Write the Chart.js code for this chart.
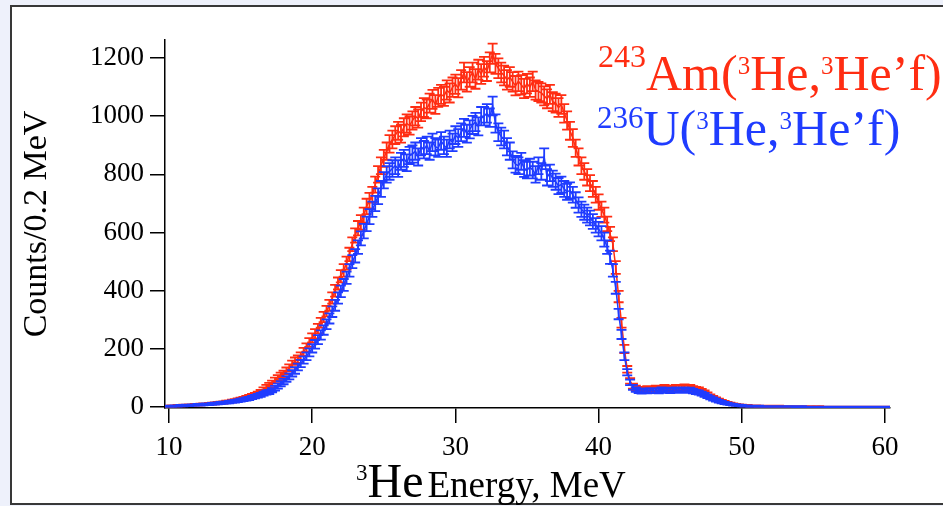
<!DOCTYPE html>
<html>
<head>
<meta charset="utf-8">
<script src="https://cdn.jsdelivr.net/npm/chart.js@4.4.1/dist/chart.umd.min.js"></script>
<style>
  html, body { margin: 0; padding: 0; width: 943px; height: 506px; overflow: hidden; background: #eef1fb; }
  #frame { position: absolute; left: 10px; top: 5px; width: 940px; height: 496px; background: #ffffff;
           border-left: 2px solid #383838; border-top: 2px solid #383838; border-bottom: 2px solid #383838; }
  canvas { position: absolute; left: 0; top: 0; }
  .lab { position: absolute; font-family: "Liberation Serif", "Times New Roman", serif; white-space: nowrap; line-height: 48px; }
  .sup { position: relative; }
</style>
</head>
<body>
<div id="frame"></div>
<canvas id="c" width="943" height="506"></canvas>
<div class="lab" id="amLab" style="left:598px; top:49px; font-size:50px; color:#ff2d12;"><span class="sup" style="font-size:32px; top:-23px;">243</span>Am(<span class="sup" style="font-size:25px; top:-16px;">3</span>He,<span class="sup" style="font-size:25px; top:-16px;">3</span>He’f)</div>
<div class="lab" id="uLab" style="left:597px; top:104px; font-size:50px; color:#1f3cff;"><span class="sup" style="font-size:31px; top:-17px;">236</span>U(<span class="sup" style="font-size:25px; top:-16px;">3</span>He,<span class="sup" style="font-size:25px; top:-16px;">3</span>He’f)</div>
<div class="lab" id="xTitle" style="left:356px; top:459px; line-height:44px; color:#000;"><span class="sup" style="font-size:23px; top:-17px;">3</span><span style="font-size:48px;">He</span> <span style="font-size:37px;">Energy, MeV</span></div>
<script>
// ---- data (Counts per 0.2 MeV bin, bins from 10.0 MeV) ----
const binStart = 10.0;
const binWidth = 0.2;
const amCounts = [
  3,4,4,5,5,        6,6,7,7,8,         8,9,10,10,11,      12,13,14,15,16,     18,19,21,23,25,
  27,30,33,36,39,   42,46,52,60,68,    75,82,92,100,108,  115,125,135,148,158, 165,175,190,205,222,
  238,252,270,290,310, 330,350,375,400,425, 450,470,495,525,560, 590,615,635,660,690, 710,730,765,800,830,
  855,880,905,920,935, 950,940,962,975,968, 985,1000,992,1015,1030, 1025,1045,1058,1040,1065, 1075,1068,1090,1080,1100,
  1110,1098,1125,1150,1118, 1135,1150,1128,1160,1145, 1170,1155,1185,1215,1180, 1165,1150,1140,1125,1135, 1118,1105,1120,1108,1095,
  1112,1100,1120,1090,1085, 1080,1070,1060,1075,1050, 1045,1030,1040,1010,985, 950,925,890,860,830, 810,790,770,750,730,
  705,680,660,630,595, 560,480,380,290,200, 130,90,72,66,62, 60,62,64,60,63, 66,62,65,68,64,
  63,66,68,65,67, 70,66,68,64,62, 60,55,50,44,38, 33,28,24,20,17, 14,12,10,8,7,
  6,5,5,4,4, 4,3,3,3,3, 3,3,2,3,2, 2,2,2,2,2, 2,2,2,2,1,
  2,1,2,1,1, 1,1,1,1,1, 1,1,1,1,1, 1,1,1,1,1, 1,1,1,1,1,
  1
];
const uCounts = [
  3,3,4,4,5,        5,6,6,7,7,         8,8,9,10,10,       11,12,13,14,15,     16,17,19,20,22,
  24,26,28,30,33,   36,39,42,46,50,    52,58,65,72,80,    88,97,106,116,126,  138,150,162,175,188,
  202,216,232,248,265, 285,305,328,350,375, 398,420,445,470,500, 520,550,580,605,630, 655,680,700,725,750,
  780,800,810,820,830, 820,845,855,840,865, 870,880,860,895,885, 900,880,910,895,890, 915,900,890,920,910,
  935,925,945,960,940, 955,970,980,965,1000, 1000,1010,995,1035,975, 945,930,920,895,880, 850,835,830,845,820,
  815,825,815,800,830, 810,860,790,805,785, 775,760,765,750,740, 745,730,712,695,680, 670,660,650,638,625,
  612,598,576,550,515, 470,410,320,250,175, 120,85,68,60,56, 54,57,55,58,56, 58,55,60,57,59,
  56,58,60,57,58, 60,57,59,55,52, 50,46,42,37,32, 28,24,20,17,14, 12,10,8,7,6,
  5,4,4,3,3, 3,3,2,2,2, 2,2,2,2,2, 2,2,2,2,1, 1,2,1,1,1,
  1,1,1,1,1, 1,1,1,1,1, 1,1,1,1,1, 1,1,1,1,1, 1,1,1,1,1,
  1
];
const xTickValues = [10, 20, 30, 40, 50, 60];
const yTickValues = [0, 200, 400, 600, 800, 1000, 1200];
const seriesNames = ['236U(3He,3He’f)', '243Am(3He,3He’f)'];

const energies = amCounts.map((_, i) => +(binStart + binWidth * i).toFixed(1));
const toPoints = arr => arr.map((v, i) => ({ x: energies[i], y: v }));

const RED = '#ff2d12', BLUE = '#1f3cff';

const errorBars = {
  id: 'errorBars',
  afterDatasetDraw(chart, args) {
    const ds = chart.data.datasets[args.index];
    const { ctx, chartArea } = chart;
    const x = chart.scales.x, y = chart.scales.y;
    ctx.save();
    ctx.beginPath();
    ctx.rect(chartArea.left, chartArea.top - 10, chartArea.right - chartArea.left, chartArea.bottom - chartArea.top + 10);
    ctx.clip();
    ctx.strokeStyle = ds.borderColor;
    ctx.lineWidth = 1.8;
    ctx.beginPath();
    const cap = 5;
    ds.data.forEach(p => {
      const e = Math.sqrt(p.y);
      const px = x.getPixelForValue(p.x);
      const t = y.getPixelForValue(p.y + e);
      const b = y.getPixelForValue(Math.max(p.y - e, 0));
      ctx.moveTo(px, t); ctx.lineTo(px, b);
      ctx.moveTo(px - cap, t); ctx.lineTo(px + cap, t);
      ctx.moveTo(px - cap, b); ctx.lineTo(px + cap, b);
    });
    ctx.stroke();
    ctx.restore();
  }
};

new Chart(document.getElementById('c'), {
  type: 'line',
  data: {
    datasets: [
      { label: seriesNames[0], data: toPoints(uCounts), borderColor: BLUE, borderWidth: 1.5, pointRadius: 0, fill: false, tension: 0 },
      { label: seriesNames[1], data: toPoints(amCounts), borderColor: RED, borderWidth: 1.5, pointRadius: 0, fill: false, tension: 0 }
    ]
  },
  options: {
    responsive: false,
    animation: false,
    devicePixelRatio: 1,
    layout: { padding: { top: 40, right: 53, left: 0, bottom: 0 } },
    plugins: { legend: { display: false }, tooltip: { enabled: false } },
    scales: {
      x: {
        type: 'linear',
        min: 9.72, max: 60.35,
        afterBuildTicks: s => { s.ticks = xTickValues.map(v => ({ value: v })); },
        afterFit: s => { s.height = 98; },
        border: { color: '#000', width: 1.5 },
        grid: { drawOnChartArea: false, drawTicks: true, tickLength: 15, color: '#000', lineWidth: 1.5 },
        ticks: { color: '#000', font: { family: 'Liberation Serif', size: 27 }, padding: 9, maxRotation: 0,
                 callback: v => String(v) }
      },
      y: {
        type: 'linear',
        min: -3, max: 1262,
        afterBuildTicks: s => { s.ticks = yTickValues.map(v => ({ value: v })); },
        afterFit: s => { s.width = 165; },
        border: { color: '#000', width: 1.5 },
        grid: { drawOnChartArea: false, drawTicks: true, tickLength: 15, color: '#000', lineWidth: 1.5 },
        ticks: { color: '#000', font: { family: 'Liberation Serif', size: 27 }, padding: 6,
                 callback: v => String(v) },
        title: { display: true, text: 'Counts/0.2 MeV', color: '#000', font: { family: 'Liberation Serif', size: 34 }, padding: { top: 17, bottom: 0 } }
      }
    }
  },
  plugins: [errorBars]
});
</script>
</body>
</html>
